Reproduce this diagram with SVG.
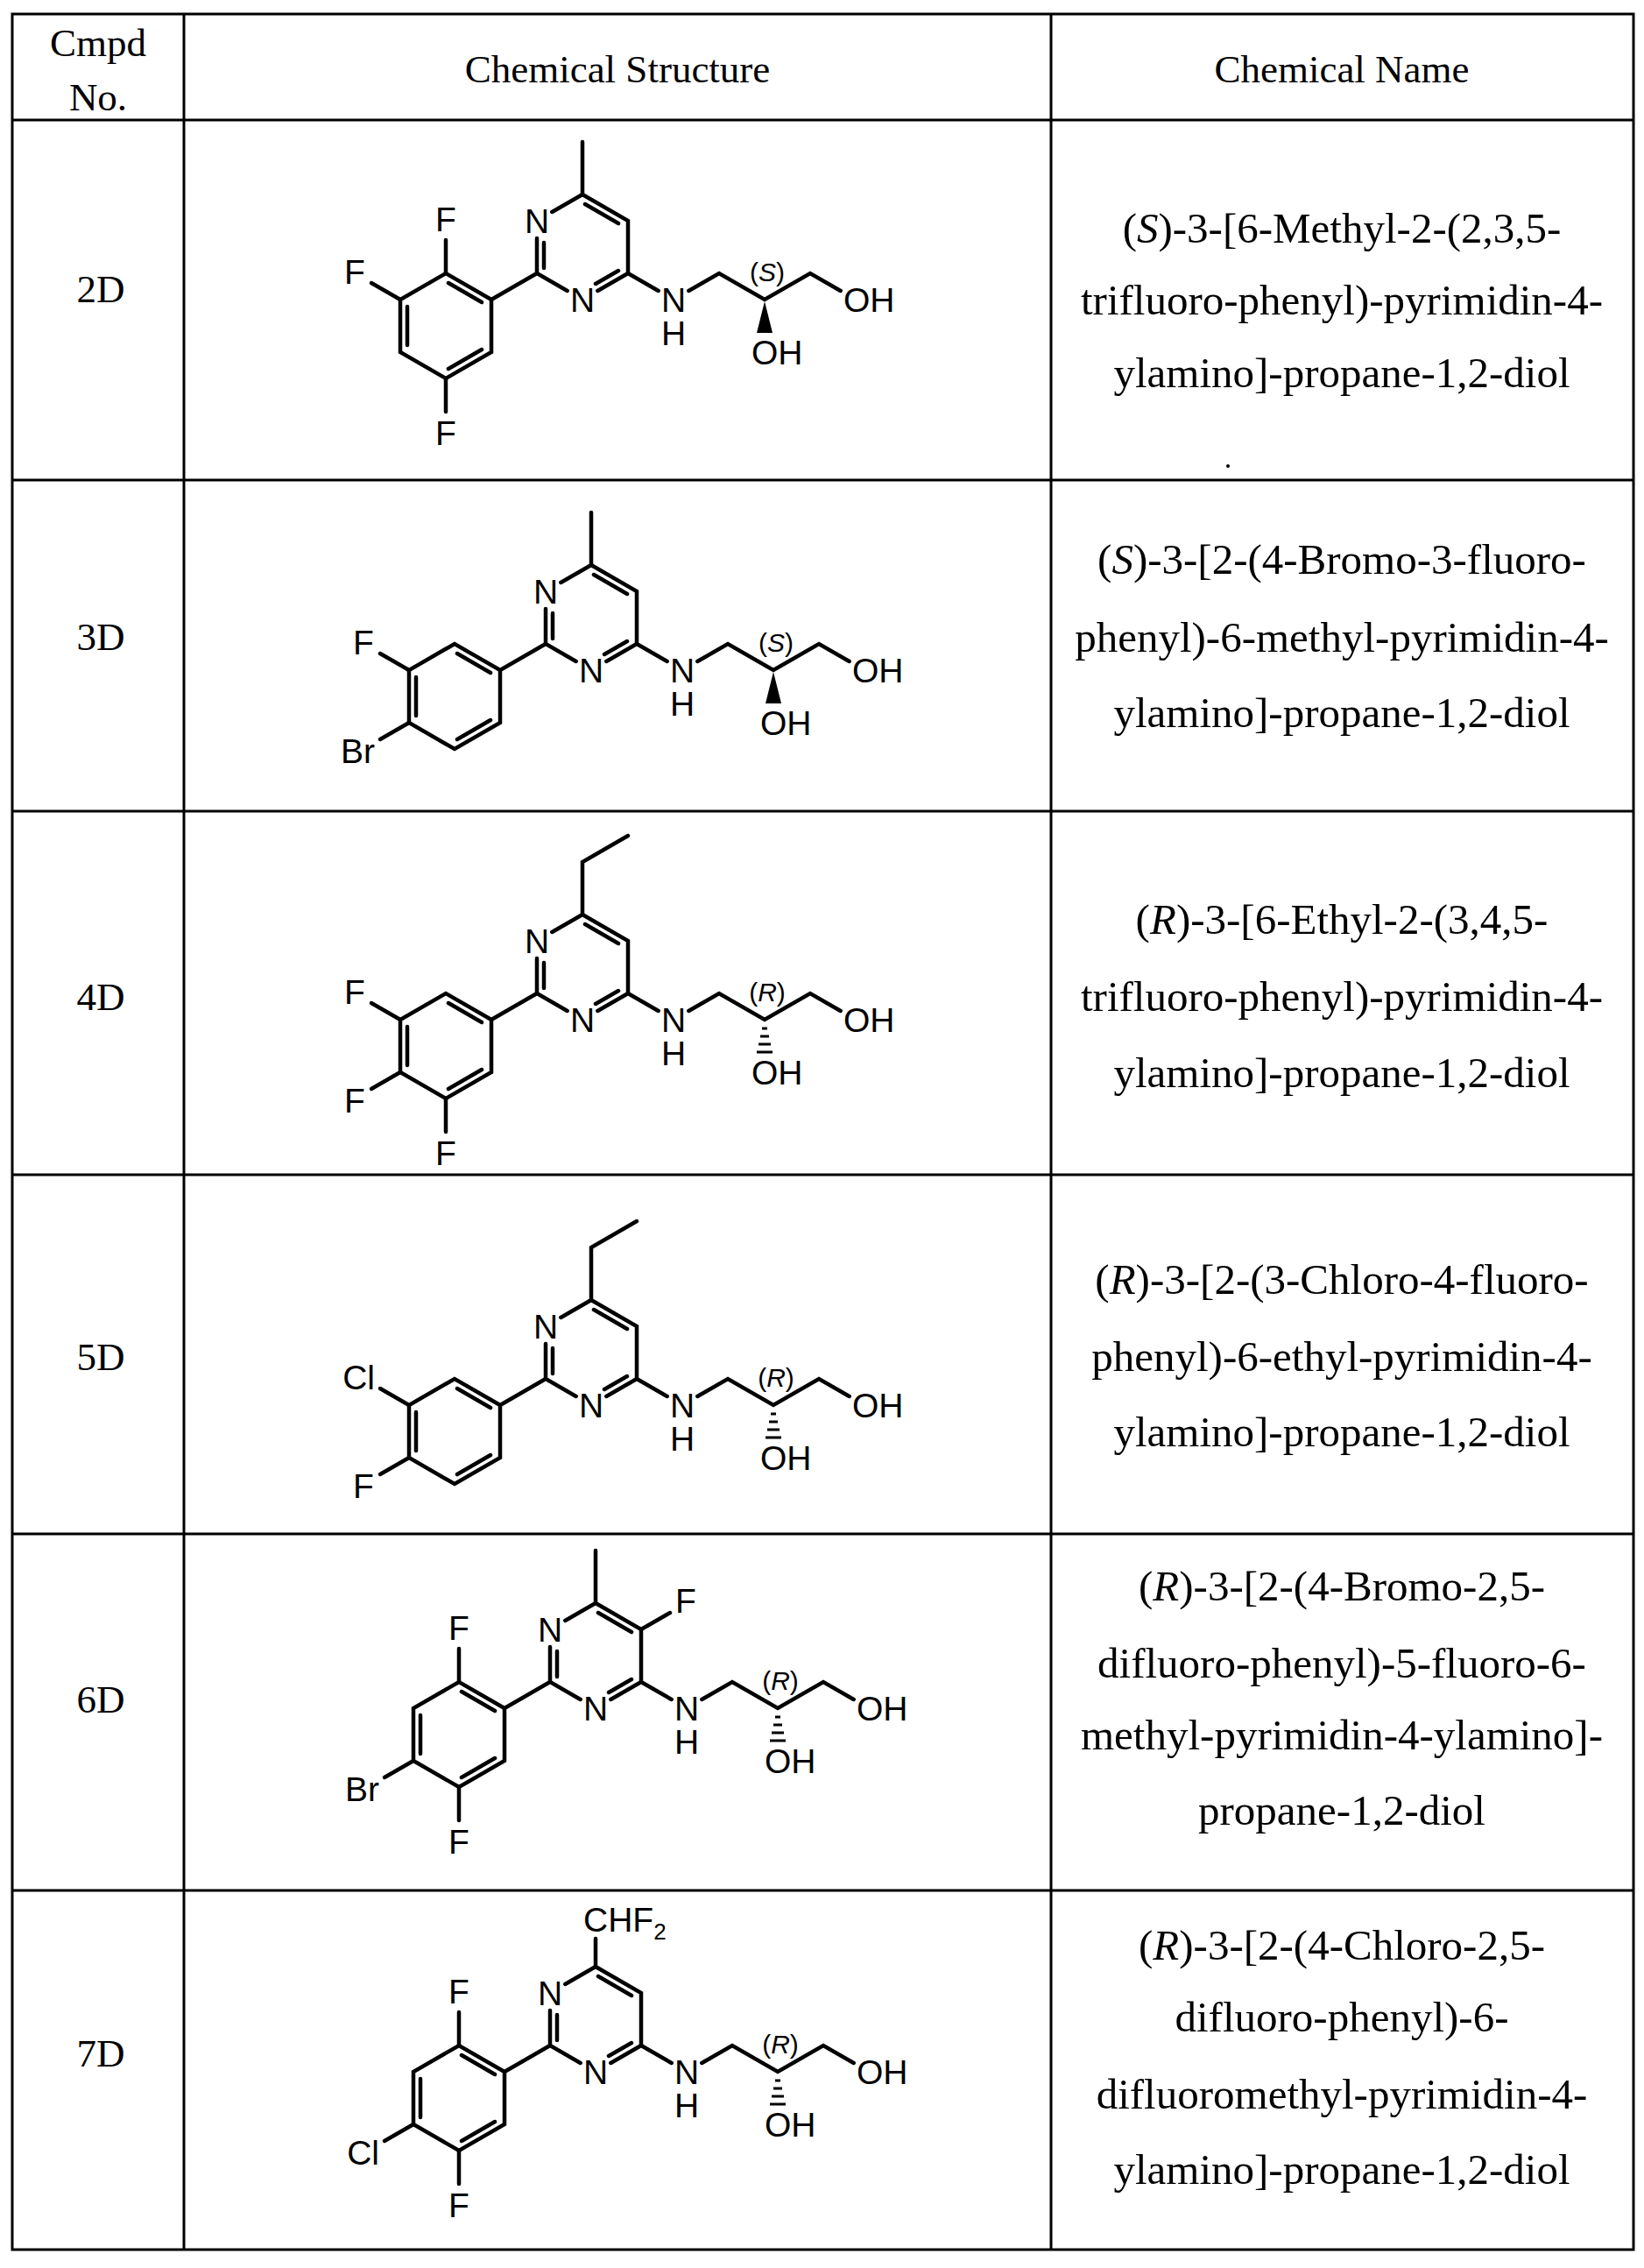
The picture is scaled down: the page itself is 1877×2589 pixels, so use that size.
<svg xmlns="http://www.w3.org/2000/svg" xmlns:xlink="http://www.w3.org/1999/xlink" width="1877" height="2589" viewBox="0 0 1877 2589">
<style>
.t{font-family:"Liberation Serif",serif;font-size:45px;fill:#000;text-anchor:middle}
.n{font-family:"Liberation Serif",serif;font-size:49px;fill:#000;text-anchor:middle}
.a{font-family:"Liberation Sans",Arial,sans-serif;font-size:39px;fill:#000;text-anchor:middle}
.s{font-family:"Liberation Sans",Arial,sans-serif;font-size:30px;fill:#000;text-anchor:middle}
.b{stroke:#000;stroke-width:4.5;fill:none;stroke-linecap:round}
.g{stroke:#000;stroke-width:3;fill:none}
</style>
<defs>
<g id="core">
<path class="b" d="M665,222 L717,252 L717,312 M717,312 L682.3,332 M647.7,332 L613,312 L613,272 M630.3,242 L665,222 M668,233 L706,255 M706,309 L680,324 M621,277 L621,306 M613,312 L561,342 M561,342 L509,312 L457,342 L457,402 L509,432 L561,402 Z M550,345 L512,323 M465,350 L465,394 M512,421 L550,399 M717,312 L751.7,332 M786.3,332 L821,312 L873,342 L925,312 L959.7,332"/>
<text class="a" x="613" y="266">N</text>
<text class="a" x="665" y="356">N</text>
<text class="a" x="769" y="356">N</text>
<text class="a" x="769" y="394">H</text>
<text class="a" x="963" y="356" style="text-anchor:start">OH</text>
<text class="a" x="858" y="416" style="text-anchor:start">OH</text>
</g>
<g id="wedge"><polygon points="873,344 864,380 882,380" fill="#000"/></g>
<g id="hash"><path class="g" d="M870,352 H876 M868,361 H878 M866,370 H880 M864,379 H882"/></g>
<g id="up"><path class="b" d="M509,312 L509,274"/><text class="a" x="509" y="264">F</text></g>
<g id="ulF"><path class="b" d="M457,342 L424,323"/><text class="a" x="405" y="324">F</text></g>
<g id="llF"><path class="b" d="M457,402 L424,421"/><text class="a" x="405" y="448">F</text></g>
<g id="dn"><path class="b" d="M509,432 L509,470"/><text class="a" x="509" y="508">F</text></g>
<path id="me" class="b" d="M665,222 L665,162"/>
<path id="et" class="b" d="M665,222 L665,162 L717,132"/>
</defs>

<g id="table">
<rect class="g" x="14" y="16" width="1851" height="2552"/>
<path class="g" d="M210,16 V2568 M1200,16 V2568 M14,137 H1865 M14,548 H1865 M14,926 H1865 M14,1341 H1865 M14,1751 H1865 M14,2158 H1865"/>
</g>

<g id="header">
<text class="t" x="112" y="64">Cmpd</text>
<text class="t" x="112" y="126">No.</text>
<text class="t" x="705" y="94">Chemical Structure</text>
<text class="t" x="1532" y="94">Chemical Name</text>
</g>

<g id="row2D">
<text class="t" x="115" y="345">2D</text>
<use href="#core"/><use href="#me"/><use href="#wedge"/>
<text class="s" x="876" y="321">(<tspan font-style="italic">S</tspan>)</text>
<use href="#up"/><use href="#ulF"/><use href="#dn"/>
<text class="n" x="1532" y="277">(<tspan font-style="italic">S</tspan>)-3-[6-Methyl-2-(2,3,5-</text>
<text class="n" x="1532" y="359">trifluoro-phenyl)-pyrimidin-4-</text>
<text class="n" x="1532" y="442">ylamino]-propane-1,2-diol</text>
<circle cx="1402" cy="532" r="2" fill="#000"/>
</g>

<g id="row3D">
<text class="t" x="115" y="742">3D</text>
<g transform="translate(10,423)">
<use href="#core"/><use href="#me"/><use href="#wedge"/>
<text class="s" x="876" y="321">(<tspan font-style="italic">S</tspan>)</text>
<use href="#ulF"/>
<path class="b" d="M457,402 L424,421"/><text class="a" x="418" y="448" style="text-anchor:end">Br</text>
</g>
<text class="n" x="1532" y="655">(<tspan font-style="italic">S</tspan>)-3-[2-(4-Bromo-3-fluoro-</text>
<text class="n" x="1532" y="744">phenyl)-6-methyl-pyrimidin-4-</text>
<text class="n" x="1532" y="830">ylamino]-propane-1,2-diol</text>
</g>

<g id="row4D">
<text class="t" x="115" y="1153">4D</text>
<g transform="translate(0,822)">
<use href="#core"/><use href="#et"/><use href="#hash"/>
<text class="s" x="876" y="321">(<tspan font-style="italic">R</tspan>)</text>
<use href="#ulF"/><use href="#llF"/><use href="#dn"/>
</g>
<text class="n" x="1532" y="1066">(<tspan font-style="italic">R</tspan>)-3-[6-Ethyl-2-(3,4,5-</text>
<text class="n" x="1532" y="1154">trifluoro-phenyl)-pyrimidin-4-</text>
<text class="n" x="1532" y="1241">ylamino]-propane-1,2-diol</text>
</g>

<g id="row5D">
<text class="t" x="115" y="1564">5D</text>
<g transform="translate(10,1262)">
<use href="#core"/><use href="#et"/><use href="#hash"/>
<text class="s" x="876" y="321">(<tspan font-style="italic">R</tspan>)</text>
<path class="b" d="M457,342 L424,323"/><text class="a" x="418" y="324" style="text-anchor:end">Cl</text>
<use href="#llF"/>
</g>
<text class="n" x="1532" y="1477">(<tspan font-style="italic">R</tspan>)-3-[2-(3-Chloro-4-fluoro-</text>
<text class="n" x="1532" y="1565">phenyl)-6-ethyl-pyrimidin-4-</text>
<text class="n" x="1532" y="1651">ylamino]-propane-1,2-diol</text>
</g>

<g id="row6D">
<text class="t" x="115" y="1955">6D</text>
<g transform="translate(15,1608)">
<use href="#core"/><use href="#me"/><use href="#hash"/>
<text class="s" x="876" y="321">(<tspan font-style="italic">R</tspan>)</text>
<use href="#up"/><use href="#dn"/>
<path class="b" d="M457,402 L424,421"/><text class="a" x="418" y="448" style="text-anchor:end">Br</text>
<path class="b" d="M717,252 L750,233"/><text class="a" x="768" y="233">F</text>
</g>
<text class="n" x="1532" y="1827">(<tspan font-style="italic">R</tspan>)-3-[2-(4-Bromo-2,5-</text>
<text class="n" x="1532" y="1915">difluoro-phenyl)-5-fluoro-6-</text>
<text class="n" x="1532" y="1997">methyl-pyrimidin-4-ylamino]-</text>
<text class="n" x="1532" y="2083">propane-1,2-diol</text>
</g>

<g id="row7D">
<text class="t" x="115" y="2359">7D</text>
<g transform="translate(15,2023)">
<use href="#core"/><use href="#hash"/>
<path class="b" d="M665,222 L665,190"/>
<text class="a" x="651" y="182" style="text-anchor:start">CHF<tspan font-size="26" dy="9">2</tspan></text>
<text class="s" x="876" y="321">(<tspan font-style="italic">R</tspan>)</text>
<use href="#up"/><use href="#dn"/>
<path class="b" d="M457,402 L424,421"/><text class="a" x="418" y="448" style="text-anchor:end">Cl</text>
</g>
<text class="n" x="1532" y="2237">(<tspan font-style="italic">R</tspan>)-3-[2-(4-Chloro-2,5-</text>
<text class="n" x="1532" y="2319">difluoro-phenyl)-6-</text>
<text class="n" x="1532" y="2407">difluoromethyl-pyrimidin-4-</text>
<text class="n" x="1532" y="2493">ylamino]-propane-1,2-diol</text>
</g>
</svg>
